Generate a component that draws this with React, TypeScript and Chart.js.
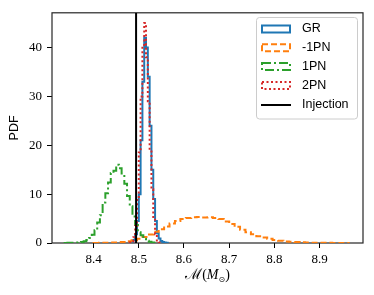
import React, { useEffect, useRef } from 'react';
import { Chart, registerables } from 'chart.js';

Chart.register(...registerables);

// ---- data ----
const xTicks = [8.4, 8.5, 8.6, 8.7, 8.8, 8.9];
const yTicks = [0, 10, 20, 30, 40];
const xMin = 8.308;
const xMax = 8.996;
const yMax = 47.1;
const injectionValue = 8.494;

const seriesNames = ['GR', '-1PN', '1PN', '2PN'];
const injectionName = 'Injection';
const yTitle = 'PDF';

// GR (solid blue) histogram: first bin edge, bin width, densities
const grStart = 8.48;
const grWidth = 0.004;
const grValues = [0.05, 0.2, 0.6, 1.8, 4.5, 10, 21, 33, 42, 40, 34, 24, 15, 9, 4.5, 2, 0.9, 0.4, 0.2, 0.1, 0.05];

// -1PN (dashed orange)
const m1pnStart = 8.4;
const m1pnWidth = 0.012;
const m1pnValues = [
  0.02, 0.03, 0.05, 0.08, 0.12, 0.2, 0.35, 0.55, 0.85, 1.25,
  1.75, 2.3, 2.8, 3.4, 4.0, 4.5, 4.9, 5.1, 5.25, 5.3,
  5.2, 5.25, 5.1, 4.9, 4.4, 3.9, 3.3, 2.7, 2.2, 1.8,
  1.4, 1.1, 0.85, 0.6, 0.45, 0.32, 0.24, 0.18, 0.13, 0.1,
  0.07, 0.05, 0.04, 0.03, 0.02, 0.02, 0.01,
];

// 1PN (dash-dot green)
const p1pnStart = 8.336;
const p1pnWidth = 0.006;
const p1pnValues = [
  0.02, 0.03, 0.03, 0.05, 0.08, 0.12, 0.2, 0.35, 0.6, 1.0,
  1.7, 2.6, 4.2, 5.7, 8.3, 10.2, 12.4, 14.3, 14.8, 16.0,
  15.3, 14.2, 12.1, 9.6, 7.5, 5.4, 3.7, 2.2, 1.6, 0.8,
  0.45, 0.25, 0.1, 0.05,
];

// 2PN (dotted red)
const p2pnStart = 8.48;
const p2pnWidth = 0.004;
const p2pnValues = [0.1, 0.3, 1.2, 3.5, 8.8, 18.5, 30, 40.5, 45, 38, 29, 19, 11, 5, 1.8, 0.5, 0.1];

// ---- styles ----
const colors = ['#1f77b4', '#ff7f0e', '#2ca02c', '#d62728'];
const dashes: number[][] = [[], [6, 3], [9, 3, 2, 3], [2, 2.5]];
const LW = 2;

function histPoints(start: number, width: number, values: number[]) {
  const pts: { x: number; y: number }[] = [{ x: start, y: 0 }];
  values.forEach((v, i) => pts.push({ x: start + i * width, y: v }));
  pts.push({ x: start + values.length * width, y: 0 });
  return pts;
}

const frameAndLabels = {
  id: 'frameAndLabels',
  beforeDatasetsDraw(chart: any) {
    const { ctx, chartArea: a } = chart;
    ctx.save();
    ctx.strokeStyle = '#262626';
    ctx.lineWidth = 1.2;
    ctx.strokeRect(a.left, a.top, a.right - a.left, a.bottom - a.top);
    ctx.restore();
  },
  afterDraw(chart: any) {
    const { ctx, chartArea: a } = chart;
    ctx.save();
    // legend
    const bx = 256.5, by = 17.5, bw = 101, bh = 101.5, r = 3;
    ctx.beginPath();
    ctx.moveTo(bx + r, by);
    ctx.lineTo(bx + bw - r, by);
    ctx.quadraticCurveTo(bx + bw, by, bx + bw, by + r);
    ctx.lineTo(bx + bw, by + bh - r);
    ctx.quadraticCurveTo(bx + bw, by + bh, bx + bw - r, by + bh);
    ctx.lineTo(bx + r, by + bh);
    ctx.quadraticCurveTo(bx, by + bh, bx, by + bh - r);
    ctx.lineTo(bx, by + r);
    ctx.quadraticCurveTo(bx, by, bx + r, by);
    ctx.closePath();
    ctx.fillStyle = 'rgba(255,255,255,0.8)';
    ctx.fill();
    ctx.strokeStyle = '#cccccc';
    ctx.lineWidth = 1;
    ctx.stroke();

    const rows = [29, 47.7, 66.5, 85.5, 105];
    ctx.font = '12.5px "Liberation Sans"';
    ctx.textBaseline = 'middle';
    ctx.textAlign = 'left';
    seriesNames.forEach((name, i) => {
      const cy = rows[i];
      ctx.strokeStyle = colors[i];
      ctx.lineWidth = LW;
      ctx.setLineDash(dashes[i]);
      ctx.strokeRect(262, cy - 3.5, 28, 7);
      ctx.setLineDash([]);
      ctx.fillStyle = '#000';
      ctx.fillText(name, 302, cy);
    });
    ctx.strokeStyle = '#000';
    ctx.lineWidth = LW;
    ctx.beginPath();
    ctx.moveTo(261, rows[4]);
    ctx.lineTo(291, rows[4]);
    ctx.stroke();
    ctx.fillStyle = '#000';
    ctx.fillText(injectionName, 302, rows[4]);

    // y title
    ctx.save();
    ctx.translate(15, (a.top + a.bottom) / 2);
    ctx.rotate(-Math.PI / 2);
    ctx.textAlign = 'center';
    ctx.font = '12.5px "Liberation Sans"';
    ctx.fillText(yTitle, 0, 0);
    ctx.restore();

    // x title: M(M_sun)
    const pieces = [
      { t: '\u2133', f: '15px "DejaVu Serif"', dy: 0 },
      { t: '(', f: '14px "Liberation Serif"', dy: 0 },
      { t: 'M', f: 'italic 14px "Liberation Serif"', dy: 0 },
      { t: '\u2299', f: '8px "DejaVu Sans"', dy: 3 },
      { t: ')', f: '14px "Liberation Serif"', dy: 0 },
    ];
    let total = 0;
    const widths = pieces.map((p) => {
      ctx.font = p.f;
      const w = ctx.measureText(p.t).width;
      total += w;
      return w;
    });
    let x = (a.left + a.right) / 2 - total / 2;
    ctx.textAlign = 'left';
    ctx.textBaseline = 'alphabetic';
    pieces.forEach((p, i) => {
      ctx.font = p.f;
      ctx.fillText(p.t, x, 279 + p.dy);
      x += widths[i];
    });
    ctx.restore();
  },
};

export default function App() {
  const ref = useRef<HTMLCanvasElement>(null);
  useEffect(() => {
    document.body.style.margin = '0';
    const c = ref.current;
    if (!c) return;
    const hists = [
      histPoints(grStart, grWidth, grValues),
      histPoints(m1pnStart, m1pnWidth, m1pnValues),
      histPoints(p1pnStart, p1pnWidth, p1pnValues),
      histPoints(p2pnStart, p2pnWidth, p2pnValues),
    ];
    const datasets: any[] = hists.map((pts, i) => ({
      label: seriesNames[i],
      data: pts,
      borderColor: colors[i],
      borderDash: dashes[i],
      borderWidth: LW,
      backgroundColor: 'transparent',
      pointRadius: 0,
      stepped: true,
      fill: false,
      order: 5 - i,
    }));
    datasets.push({
      label: injectionName,
      data: [
        { x: injectionValue, y: 0 },
        { x: injectionValue, y: yMax },
      ],
      borderColor: '#000',
      borderWidth: LW,
      pointRadius: 0,
      fill: false,
      order: 0,
    });
    const chart = new Chart(c, {
      type: 'line',
      data: { datasets },
      options: {
        animation: false,
        responsive: false,
        maintainAspectRatio: false,
        layout: { padding: { top: 10, right: 11, left: 0, bottom: 0 } },
        plugins: { legend: { display: false }, tooltip: { enabled: false } },
        scales: {
          x: {
            type: 'linear',
            min: xMin,
            max: xMax,
            afterBuildTicks: (s: any) => {
              s.ticks = xTicks.map((v) => ({ value: v }));
            },
            afterFit: (s: any) => {
              s.height = 52;
            },
            border: { display: false },
            grid: { drawOnChartArea: false, drawTicks: true, tickLength: 5, color: '#000', lineWidth: 1 },
            ticks: {
              padding: 4,
              color: '#000',
              font: { family: '"Liberation Serif"', size: 13 },
              maxRotation: 0,
              callback: (v: any) => Number(v).toFixed(1),
            },
          },
          y: {
            type: 'linear',
            min: 0,
            max: yMax,
            afterBuildTicks: (s: any) => {
              s.ticks = yTicks.map((v) => ({ value: v }));
            },
            afterFit: (s: any) => {
              s.width = 52;
            },
            border: { display: false },
            grid: { drawOnChartArea: false, drawTicks: true, tickLength: 5, color: '#000', lineWidth: 1 },
            ticks: {
              padding: 5,
              color: '#000',
              font: { family: '"Liberation Serif"', size: 13 },
              callback: (v: any) => String(v),
            },
          },
        },
      },
      plugins: [frameAndLabels],
    });
    return () => chart.destroy();
  }, []);
  return (
    <div style={{ width: 374, height: 295 }}>
      <canvas ref={ref} width={374} height={295} style={{ display: 'block' }} />
    </div>
  );
}
